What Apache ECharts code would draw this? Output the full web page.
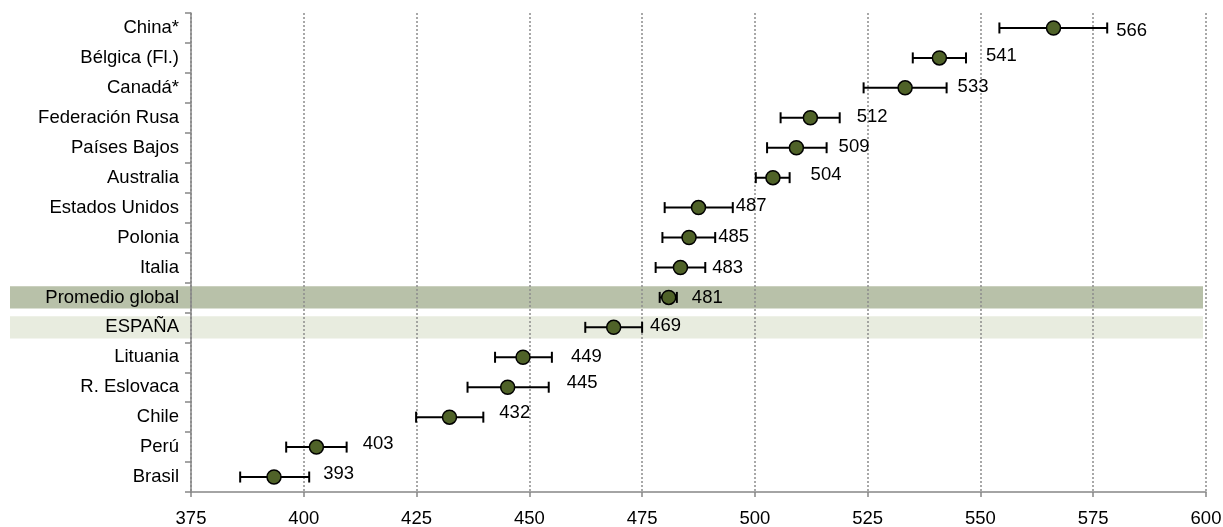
<!DOCTYPE html>
<html><head><meta charset="utf-8">
<script src="https://cdn.jsdelivr.net/npm/echarts@6/dist/echarts.min.js"></script>
<style>html,body{margin:0;padding:0;background:#fff}#c{width:1223px;height:527px}</style>
</head><body><div id="c"></div>
<script>
const categories = ['China*','Bélgica (Fl.)','Canadá*','Federación Rusa','Países Bajos','Australia','Estados Unidos','Polonia','Italia','Promedio global','ESPAÑA','Lituania','R. Eslovaca','Chile','Perú','Brasil'];
const scores = [566.2, 540.9, 533.3, 512.3, 509.2, 504.0, 487.5, 485.4, 483.5, 480.9, 468.7, 448.6, 445.2, 432.3, 402.8, 393.4];
const lower  = [554.2, 535.0, 524.1, 505.7, 502.7, 500.2, 480.0, 479.5, 478.0, 478.9, 462.4, 442.4, 436.3, 424.9, 396.1, 385.9];
const upper  = [578.1, 546.8, 542.5, 518.8, 515.9, 507.7, 495.1, 491.2, 489.0, 482.7, 475.0, 455.0, 454.3, 439.8, 409.5, 401.2];
const valueLabels = ['566','541','533','512','509','504','487','485','483','481','469','449','445','432','403','393'];
const highlighted = ['Promedio global','ESPAÑA'];

// label placement nudges (style only): [dx from right cap, dy]
const labelNudge = [[9,3],[20,-2],[11,-1],[17,-1],[12,-1],[21,-3],[3,-1.5],[3,-1],[7,0],[15,0],[8,-1],[19,0],[18,-4],[16,-4],[16,-3],[14,-3]];
const bandColors = ['#b8c1a9','#e8ecdf'];
const FONT = '"Liberation Sans", Arial, sans-serif';
const FS = 18.5;

const chart = echarts.init(document.getElementById('c'), null, {renderer:'canvas'});

function renderErr(params, api){
  const i = api.value(0);
  const lo = api.coord([api.value(1), i]);
  const hi = api.coord([api.value(2), i]);
  const capH = 11;
  const st = {stroke:'#000', lineWidth:2};
  return {type:'group', children:[
    {type:'line', shape:{x1:lo[0],y1:lo[1],x2:hi[0],y2:hi[1]}, style:st},
    {type:'line', shape:{x1:lo[0],y1:lo[1]-capH/2,x2:lo[0],y2:lo[1]+capH/2}, style:st},
    {type:'line', shape:{x1:hi[0],y1:hi[1]-capH/2,x2:hi[0],y2:hi[1]+capH/2}, style:st},
    {type:'text', style:{text:valueLabels[i], x:hi[0]+labelNudge[i][0], y:hi[1]+labelNudge[i][1], fill:'#000', font:FS+'px '+FONT, align:'left', verticalAlign:'middle'}}
  ]};
}

const option = {
  animation:false,
  grid:{left:191,right:17,top:13,bottom:35,containLabel:false,outerBoundsMode:'none'},
  xAxis:{type:'value',min:375,max:600,interval:25,
    axisLine:{show:true,lineStyle:{color:'#868686',width:1.5}},
    axisTick:{show:true,length:5,lineStyle:{color:'#868686',width:1.5}},
    axisLabel:{color:'#000',fontSize:FS,fontFamily:FONT,margin:17},
    splitLine:{show:true,lineStyle:{color:'#8c8c8c',type:[2,2],width:1.5}}},
  yAxis:{type:'category',data:categories,inverse:true,
    axisLine:{show:true,lineStyle:{color:'#868686',width:1.5}},
    axisTick:{show:true,length:6,lineStyle:{color:'#868686',width:1.5}},
    axisLabel:{color:'#000',fontSize:FS,fontFamily:FONT,margin:12},
    splitLine:{show:false}},
  series:[
    {type:'custom', renderItem:renderErr, encode:{x:[1,2],y:0}, z:2,
     data:categories.map((c,i)=>[i, lower[i], upper[i]])},
    {type:'scatter', data:scores.map((v,i)=>[v,i]), symbolSize:14, z:3,
     itemStyle:{color:'#4f6228',borderColor:'#000',borderWidth:1.5,opacity:1}}
  ]
};
chart.setOption(option);

const rightX = chart.convertToPixel({xAxisIndex:0}, 600);
const step = chart.convertToPixel({yAxisIndex:0}, 1) - chart.convertToPixel({yAxisIndex:0}, 0);
chart.setOption({graphic:{elements:highlighted.map((name,j)=>{
  const cy = chart.convertToPixel({yAxisIndex:0}, categories.indexOf(name));
  const h = Math.abs(step)*0.74;
  return {type:'rect', z:-10, silent:true, shape:{x:10, y:cy-h/2, width:rightX-3-10, height:h}, style:{fill:bandColors[j]}};
})}});
</script>
</body></html>
